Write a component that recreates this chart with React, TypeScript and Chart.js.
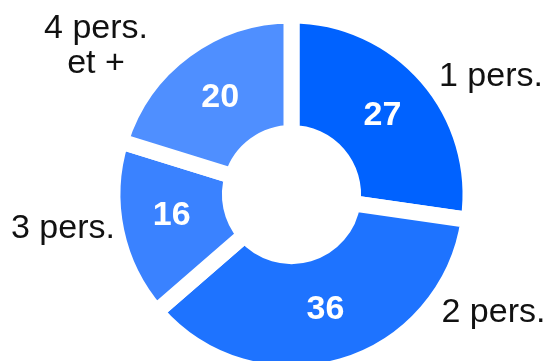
import React, { useEffect, useRef } from "react";
import { Chart, registerables } from "chart.js";

Chart.register(...registerables);

const categories = ["1 pers.", "2 pers.", "3 pers.", "4 pers.\net +"];
const values = [27, 36, 16, 20];
const colors = ["#0062FF", "#1E73FF", "#3A82FF", "#4F8FFF"];

// label anchors relative to doughnut centre: [dx, dy(baseline), align]
const labelAnchors: [number, number, CanvasTextAlign][] = [
  [147.5, -108.5, "left"],
  [150, 127, "left"],
  [-280.5, 43.2, "left"],
  [-195.5, -156.2, "center"],
];
// small nudges of the value labels
const valueNudge: [number, number][] = [
  [0, 0],
  [0, 0],
  [-2, -4],
  [0, 0],
];

const labelPlugin = {
  id: "labels",
  afterDatasetsDraw(chart: any) {
    const ctx = chart.ctx as CanvasRenderingContext2D;
    const meta = chart.getDatasetMeta(0);
    const first = meta.data[0];
    const cx = first.x;
    const cy = first.y;
    ctx.save();
    meta.data.forEach((arc: any, i: number) => {
      const p = arc.tooltipPosition();
      ctx.font = "bold 34px 'Liberation Sans', Arial, sans-serif";
      ctx.fillStyle = "#ffffff";
      ctx.textAlign = "center";
      ctx.textBaseline = "middle";
      ctx.fillText(String(values[i]), p.x + valueNudge[i][0], p.y + valueNudge[i][1]);

      const [dx, dy, align] = labelAnchors[i];
      ctx.font = "34px 'Liberation Sans', Arial, sans-serif";
      ctx.fillStyle = "#111111";
      ctx.textAlign = align;
      ctx.textBaseline = "alphabetic";
      const lines = categories[i].split("\n");
      lines.forEach((ln, k) => {
        ctx.fillText(ln, cx + dx, cy + dy + k * 35);
      });
    });
    ctx.restore();
  },
};

export default function App() {
  const ref = useRef<HTMLCanvasElement | null>(null);
  useEffect(() => {
    if (!ref.current) return;
    const chart = new Chart(ref.current, {
      type: "doughnut",
      data: {
        labels: categories,
        datasets: [
          {
            data: values,
            backgroundColor: colors,
            borderColor: "#ffffff",
            borderWidth: 16,
            hoverOffset: 0,
          },
        ],
      },
      options: {
        responsive: false,
        animation: false,
        devicePixelRatio: 1,
        cutout: "34.4%",
        layout: { padding: { left: 104.5, top: 7.5, right: 70.5, bottom: 18.5 } },
        plugins: { legend: { display: false }, tooltip: { enabled: false } },
        events: [],
      },
      plugins: [labelPlugin],
    });
    return () => chart.destroy();
  }, []);
  return (
    <div
      style={{
        position: "fixed",
        left: 0,
        top: 0,
        width: 549,
        height: 361,
        overflow: "hidden",
        background: "#ffffff",
      }}
    >
      <canvas ref={ref} width={549} height={400} style={{ width: 549, height: 400, display: "block" }} />
    </div>
  );
}
